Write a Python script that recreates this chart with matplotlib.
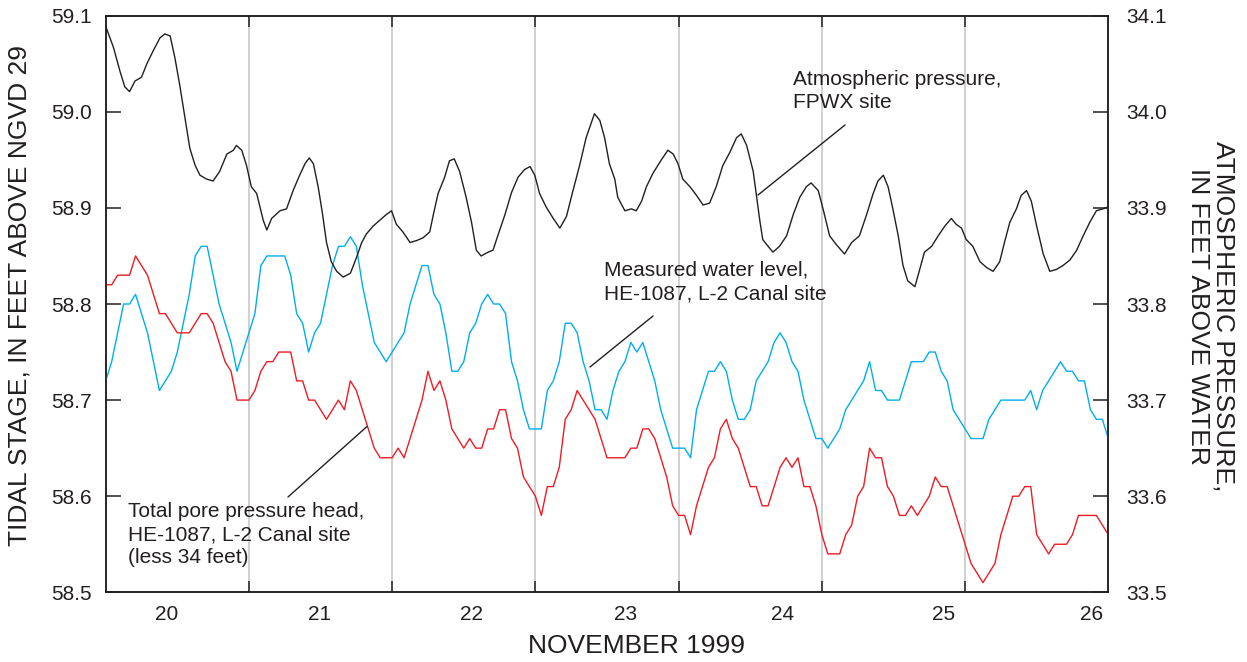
import matplotlib
matplotlib.use('Agg')
import matplotlib.pyplot as plt
import numpy as np

plt.rcParams['font.family'] = ['Liberation Sans', 'DejaVu Sans']

# ---------------- data ----------------
day_labels = ['20', '21', '22', '23', '24', '25', '26']
label_hours = [10.2, 35.8, 61.3, 87.1, 113.5, 140.4, 165.2]   # where the day numbers sit
day_bounds = [24, 48, 72, 96, 120, 144]                         # midnight lines (hours)

# hourly water level, HE-1087 (ft above NGVD 29), hours 0..168
water_level = [
    58.72, 58.74, 58.77, 58.80, 58.80, 58.81, 58.79, 58.77, 58.74, 58.71,
    58.72, 58.73, 58.75, 58.78, 58.81, 58.85, 58.86, 58.86, 58.83, 58.80,
    58.78, 58.76, 58.73, 58.75, 58.77, 58.79, 58.84, 58.85, 58.85, 58.85,
    58.85, 58.83, 58.79, 58.78, 58.75, 58.77, 58.78, 58.81, 58.84, 58.86,
    58.86, 58.87, 58.86, 58.82, 58.79, 58.76, 58.75, 58.74, 58.75, 58.76,
    58.77, 58.80, 58.82, 58.84, 58.84, 58.81, 58.80, 58.77, 58.73, 58.73,
    58.74, 58.77, 58.78, 58.80, 58.81, 58.80, 58.80, 58.79, 58.74, 58.72,
    58.69, 58.67, 58.67, 58.67, 58.71, 58.72, 58.74, 58.78, 58.78, 58.77,
    58.74, 58.72, 58.69, 58.69, 58.68,
    58.71, 58.73, 58.74, 58.76, 58.75, 58.76, 58.74, 58.72, 58.69, 58.67,
    58.65, 58.65, 58.65, 58.64, 58.69, 58.71, 58.73, 58.73, 58.74, 58.73,
    58.70, 58.68, 58.68, 58.69, 58.72, 58.73, 58.74, 58.76, 58.77, 58.76,
    58.74, 58.73, 58.70, 58.68, 58.66, 58.66, 58.65, 58.66, 58.67, 58.69,
    58.70, 58.71, 58.72, 58.74, 58.71, 58.71, 58.70, 58.70, 58.70, 58.72,
    58.74, 58.74, 58.74, 58.75, 58.75, 58.73, 58.72, 58.69, 58.68, 58.67,
    58.66, 58.66, 58.66, 58.68, 58.69, 58.70, 58.70, 58.70, 58.70, 58.70,
    58.71, 58.69, 58.71, 58.72, 58.73, 58.74, 58.73, 58.73, 58.72, 58.72,
    58.69, 58.68, 58.68, 58.66,
]

# hourly total pore pressure head (less 34 ft), hours 0..168
pore_head = [
    58.82, 58.82, 58.83, 58.83, 58.83, 58.85, 58.84, 58.83, 58.81, 58.79,
    58.79, 58.78, 58.77, 58.77, 58.77, 58.78, 58.79, 58.79, 58.78, 58.76,
    58.74, 58.73, 58.70, 58.70, 58.70, 58.71, 58.73, 58.74, 58.74, 58.75,
    58.75, 58.75, 58.72, 58.72, 58.70, 58.70, 58.69, 58.68, 58.69, 58.70,
    58.69, 58.72, 58.71, 58.69, 58.67, 58.65, 58.64, 58.64, 58.64, 58.65,
    58.64, 58.66, 58.68, 58.70, 58.73, 58.71, 58.72, 58.70, 58.67, 58.66,
    58.65, 58.66, 58.65, 58.65, 58.67, 58.67, 58.69, 58.69, 58.66, 58.65,
    58.62, 58.61, 58.60, 58.58, 58.61, 58.61, 58.63, 58.68, 58.69, 58.71,
    58.70, 58.69, 58.68, 58.66, 58.64,
    58.64, 58.64, 58.64, 58.65, 58.65, 58.67, 58.67, 58.66, 58.64, 58.62,
    58.59, 58.58, 58.58, 58.56, 58.59, 58.61, 58.63, 58.64, 58.67, 58.68,
    58.66, 58.65, 58.63, 58.61, 58.61, 58.59, 58.59, 58.61, 58.63, 58.64,
    58.63, 58.64, 58.61, 58.61, 58.59, 58.56, 58.54, 58.54, 58.54, 58.56,
    58.57, 58.60, 58.61, 58.65, 58.64, 58.64, 58.61, 58.60, 58.58, 58.58,
    58.59, 58.58, 58.59, 58.60, 58.62, 58.61, 58.61, 58.59, 58.57, 58.55,
    58.53, 58.52, 58.51, 58.52, 58.53, 58.56, 58.58, 58.60, 58.60, 58.61,
    58.61, 58.56, 58.55, 58.54, 58.55, 58.55, 58.55, 58.56, 58.58, 58.58,
    58.58, 58.58, 58.57, 58.56,
]

# atmospheric pressure, FPWX site (ft above water)
atm_hours = [
    0.0, 1.3, 2.4, 3.2, 4.0, 4.9, 6.0, 6.9, 8.0, 9.1, 9.9, 10.8, 11.6, 12.4, 13.3,
    14.1, 15.0, 15.8, 16.9, 18.0, 19.1, 20.3, 21.4, 21.9, 22.8, 23.6, 24.4, 25.3,
    26.4, 27.0, 27.8, 29.2, 30.3, 31.4, 32.5, 33.4, 34.1, 34.8, 35.6, 36.3, 37.0,
    37.8, 38.7, 39.8, 41.0, 42.0, 42.9, 43.7, 44.8, 45.9, 47.0, 47.9, 48.7, 49.8,
    51.0, 52.1, 53.2, 54.3, 54.9, 55.7, 56.8, 57.6, 58.4, 59.3, 60.4, 61.3, 62.1,
    62.9, 64.1, 64.9, 65.7, 66.9, 68.0, 69.1, 70.2, 71.1, 71.9, 72.7, 73.8, 75.0,
    76.1, 77.2, 78.3, 79.4, 80.5, 81.4, 81.9, 82.8, 83.6, 84.4, 85.3, 85.8, 87.0,
    88.1, 88.9, 89.8, 90.6, 91.7, 93.1, 94.2, 95.1, 95.9, 96.7, 97.9, 99.0, 100.1,
    101.2, 102.3, 103.4, 104.6, 105.7, 106.5, 107.4, 108.5, 109.0, 109.6, 110.1,
    111.0, 111.8, 112.9, 114.1, 115.2, 116.3, 117.4, 118.2, 119.4, 120.2, 121.3,
    122.4, 123.8, 125.0, 126.3, 127.5, 128.6, 129.4, 130.3, 131.1, 131.9, 132.8,
    133.6, 134.4, 135.6, 136.4, 137.2, 138.4, 139.5, 140.6, 141.7, 142.5, 143.4,
    144.2, 145.3, 146.5, 147.6, 148.7, 149.8, 150.6, 151.5, 152.6, 153.4, 154.3,
    155.1, 156.0, 157.1, 158.2, 159.3, 160.4, 161.6, 162.7, 163.8, 164.9, 166.0,
    167.1, 168.0,
]
atm_values = [
    34.089, 34.067, 34.042, 34.026, 34.021, 34.032, 34.036, 34.050, 34.064, 34.077,
    34.081, 34.079, 34.056, 34.028, 33.993, 33.962, 33.944, 33.934, 33.930, 33.928,
    33.938, 33.956, 33.960, 33.965, 33.960, 33.944, 33.922, 33.915, 33.887, 33.877,
    33.889, 33.897, 33.899, 33.918, 33.934, 33.946, 33.952, 33.946, 33.922, 33.895,
    33.864, 33.844, 33.834, 33.828, 33.832, 33.848, 33.864, 33.873, 33.881, 33.887,
    33.893, 33.897, 33.883, 33.875, 33.864, 33.866, 33.869, 33.875, 33.893, 33.915,
    33.932, 33.949, 33.951, 33.938, 33.911, 33.885, 33.856, 33.850, 33.854, 33.856,
    33.871, 33.893, 33.916, 33.932, 33.940, 33.943, 33.934, 33.915, 33.901, 33.889,
    33.879, 33.891, 33.918, 33.944, 33.973, 33.989, 33.998, 33.991, 33.973, 33.946,
    33.930, 33.911, 33.897, 33.899, 33.897, 33.907, 33.922, 33.936, 33.950, 33.960,
    33.956, 33.946, 33.930, 33.922, 33.913, 33.903, 33.905, 33.922, 33.944, 33.958,
    33.973, 33.977, 33.965, 33.938, 33.915, 33.887, 33.867, 33.860, 33.854, 33.860,
    33.871, 33.893, 33.911, 33.922, 33.926, 33.918, 33.899, 33.871, 33.862, 33.852,
    33.864, 33.871, 33.893, 33.915, 33.928, 33.934, 33.922, 33.899, 33.871, 33.840,
    33.824, 33.818, 33.836, 33.854, 33.860, 33.871, 33.881, 33.889, 33.883, 33.879,
    33.867, 33.860, 33.844, 33.838, 33.834, 33.844, 33.864, 33.885, 33.899, 33.913,
    33.918, 33.907, 33.881, 33.852, 33.834, 33.836, 33.840, 33.846, 33.856, 33.871,
    33.885, 33.897, 33.899, 33.901,
]

left_ticks = [58.5, 58.6, 58.7, 58.8, 58.9, 59.0, 59.1]
right_ticks = [33.5, 33.6, 33.7, 33.8, 33.9, 34.0, 34.1]

# ---------------- styling ----------------
INK = '#231f20'
BLUE = '#00aeef'
RED = '#ed1c24'
GRID = '#c4c4c6'

W, H = 1247, 662
fig = plt.figure(figsize=(W / 100, H / 100), dpi=100)
ax_l, ax_r, ax_t, ax_b = 105.7, 1108.3, 15.7, 592.3
ax = fig.add_axes([ax_l / W, 1 - ax_b / H, (ax_r - ax_l) / W, (ax_b - ax_t) / H])
ax2 = ax.twinx()

hours = np.arange(len(water_level))

for b in day_bounds:
    ax.axvline(b, color=GRID, lw=1.1, zorder=0)

ax.plot(hours, water_level, color=BLUE, lw=1.0, zorder=3)
ax.plot(hours, pore_head, color=RED, lw=1.0, zorder=3)
ax2.plot(atm_hours, atm_values, color=INK, lw=1.0, zorder=3)

ax.set_xlim(0, 168)
ax.set_ylim(58.5, 59.1)
ax2.set_ylim(33.5, 34.1)

for a in (ax, ax2):
    for s in a.spines.values():
        s.set_color(INK)
        s.set_linewidth(1.1)

ax.set_xticks(label_hours)
ax.set_xticklabels(day_labels)
ax.set_xticks(day_bounds, minor=True)
ax.tick_params(axis='x', which='major', length=0, pad=9, labelsize=15, labelcolor=INK)
ax.tick_params(axis='x', which='minor', direction='in', length=8, width=1.1,
               color=INK, top=True, bottom=True)

ax.set_yticks(left_ticks)
ax.set_yticklabels([f'{v:.1f}' for v in left_ticks])
ax.tick_params(axis='y', direction='in', length=11, width=1.1, color=INK,
               pad=10, labelsize=15, labelcolor=INK)
ax2.set_yticks(right_ticks)
ax2.set_yticklabels([f'{v:.1f}' for v in right_ticks])
ax2.tick_params(axis='y', direction='in', length=11, width=1.1, color=INK,
                pad=13, labelsize=15, labelcolor=INK)

# axis titles
fig.text(20 / W, 1 - 295 / H, 'TIDAL STAGE, IN FEET ABOVE NGVD 29', rotation=90,
         ha='center', va='center', fontsize=19, color=INK)
fig.text(1211 / W, 1 - 316 / H, 'ATMOSPHERIC PRESSURE,\nIN FEET ABOVE WATER',
         rotation=-90, ha='center', va='center', multialignment='center',
         fontsize=19, color=INK, linespacing=1.08)
fig.text(636 / W, 1 - 646 / H, 'NOVEMBER 1999', ha='center', va='center',
         fontsize=19, color=INK)

# annotations
def px_to_data(px, py):
    return ((px - ax_l) / (ax_r - ax_l) * 168,
            59.1 - (py - ax_t) / (ax_b - ax_t) * 0.6)

ann = dict(fontsize=15, color=INK, ha='left', va='top', linespacing=1.27, zorder=5)
ax.text(*px_to_data(793, 70), 'Atmospheric pressure,\nFPWX site', **ann)
ax.text(*px_to_data(604, 261), 'Measured water level,\nHE-1087, L-2 Canal site', **ann)
ax.text(*px_to_data(128, 502), 'Total pore pressure head,\nHE-1087, L-2 Canal site\n(less 34 feet)', **ann)

lp = dict(arrowstyle='-', color=INK, lw=1.0, shrinkA=0, shrinkB=0)
ax.annotate('', xy=px_to_data(758, 195), xytext=px_to_data(845, 125), arrowprops=lp)
ax.annotate('', xy=px_to_data(590, 367), xytext=px_to_data(653, 316), arrowprops=lp)
ax.annotate('', xy=px_to_data(367, 426.5), xytext=px_to_data(288, 497), arrowprops=lp)

fig.savefig('out.png', dpi=100)
